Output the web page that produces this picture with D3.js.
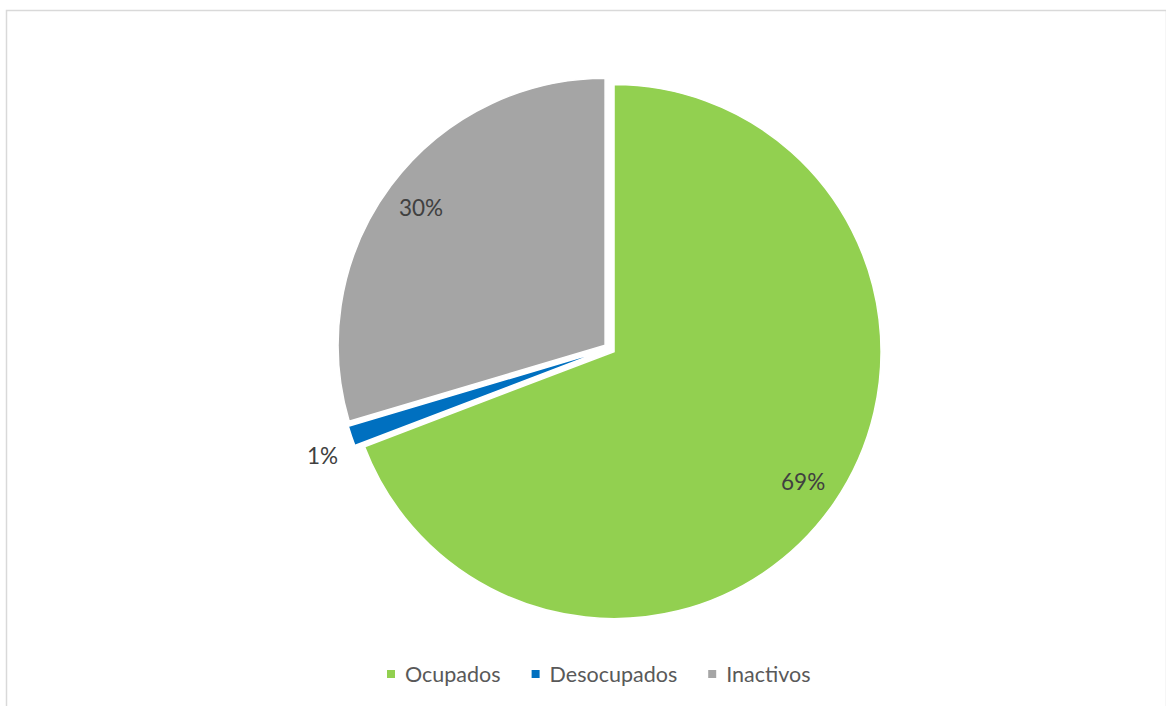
<!DOCTYPE html>
<html>
<head>
<meta charset="utf-8">
<script src="https://cdn.jsdelivr.net/npm/d3@7/dist/d3.min.js"></script>
<style>
  html, body { margin: 0; padding: 0; background: #ffffff; }
  svg { display: block; }
</style>
</head>
<body>
<svg id="chart" width="1166" height="706"></svg>
<script>
// Population by activity status (share of total, %)
const categories = ["Ocupados", "Desocupados", "Inactivos"];
const values = [69.2, 1.2, 29.6];
const labels = ["69%", "1%", "30%"];
const colors = ["#92d050", "#0070c0", "#a5a5a5"];

const svg = d3.select("#chart");
const W = 1166, H = 706;

// Chart area frame
svg.append("rect")
  .attr("x", 6.5).attr("y", 10.5)
  .attr("width", W - 6).attr("height", H)
  .attr("fill", "none")
  .attr("stroke", "#d9d9d9")
  .attr("stroke-width", 1.5);

const cx = 609.5, cy = 348.5, R = 267, explode = 5.5;
const font = "Lato, 'Noto Sans', sans-serif";

const pie = d3.pie().sort(null).value(d => d)(values);
const arc = d3.arc().innerRadius(0).outerRadius(R);

const g = svg.append("g").attr("transform", `translate(${cx},${cy})`);

function offset(d, r) {
  const a = (d.startAngle + d.endAngle) / 2;
  return [Math.sin(a) * r, -Math.cos(a) * r];
}

const slices = g.selectAll("g.slice").data(pie).enter().append("g")
  .attr("class", "slice")
  .attr("transform", d => {
    const [dx, dy] = offset(d, explode);
    return `translate(${dx},${dy})`;
  });

slices.append("path")
  .attr("d", arc)
  .attr("fill", (d, i) => colors[i])
  .attr("stroke", "#ffffff")
  .attr("stroke-width", 1.5)
  .attr("stroke-linejoin", "miter");

// Data labels: inside for large slices, outside for the thin one
slices.append("text")
  .attr("transform", d => {
    const small = (d.endAngle - d.startAngle) < 0.2;
    const [x, y] = offset(d, small ? R * 1.13 : R * 0.86);
    return `translate(${x + (small ? 4 : 0)},${y + (small ? 8 : 0)})`;
  })
  .attr("text-anchor", "middle")
  .attr("dominant-baseline", "central")
  .attr("font-family", font)
  .attr("font-size", 22.5)
  .attr("fill", "#404040")
  .text((d, i) => labels[i]);

// Legend
const legend = svg.append("g").attr("transform", "translate(0,674)");
const items = legend.selectAll("g").data(categories).enter().append("g");
items.append("rect")
  .attr("width", 8).attr("height", 8).attr("y", -4)
  .attr("fill", (d, i) => colors[i]);
items.append("text")
  .attr("x", 18)
  .attr("dominant-baseline", "central")
  .attr("font-family", font)
  .attr("font-size", 21.5)
  .attr("fill", "#595959")
  .text(d => d);

// Lay the legend entries out side by side
let widths = [];
items.each(function() { widths.push(this.getBBox().width); });
const gap = 31;
let x = 387;
items.attr("transform", (d, i) => {
  const t = `translate(${x},0)`;
  x += widths[i] + gap;
  return t;
});
</script>
</body>
</html>
